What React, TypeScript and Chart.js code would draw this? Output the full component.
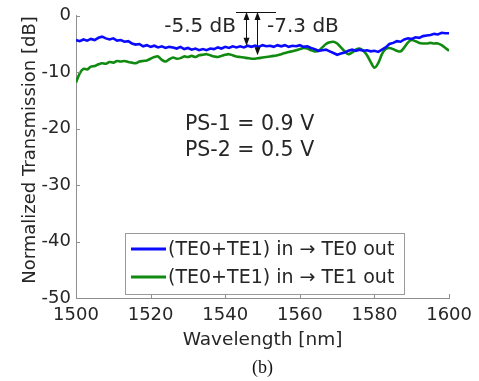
import React, { useEffect, useRef } from "react";
import { Chart, registerables } from "chart.js";

Chart.register(...registerables);

const wavelengths: number[] = [];
for (let w = 1500; w <= 1600; w += 1) wavelengths.push(w);

const te0Out: number[] = [
  -4.3, -4.5, -4.2, -4.4, -4.1, -4.3, -3.9, -3.7, -4.0, -4.2,
  -4.0, -4.4, -4.3, -4.6, -4.5, -4.9, -5.1, -5.0, -5.4, -5.2,
  -5.5, -5.3, -5.6, -5.4, -5.7, -5.5, -5.6, -5.8, -5.5, -5.9,
  -5.7, -6.0, -5.8, -6.1, -5.9, -6.1, -5.8, -5.9, -5.6, -5.8,
  -5.5, -5.7, -5.4, -5.6, -5.4, -5.6, -5.3, -5.5, -5.3, -5.5,
  -5.2, -5.4, -5.3, -5.5, -5.2, -5.4, -5.2, -5.5, -5.3, -5.4,
  -5.2, -5.5, -5.4, -5.7, -5.9, -6.2, -6.1, -6.0, -6.3, -6.6,
  -6.9, -6.7, -6.5, -6.2, -6.0, -6.2, -6.0, -6.2, -6.1, -6.3,
  -6.2, -6.4, -6.0, -5.6, -5.0, -4.8, -4.5, -4.6, -4.2, -4.0,
  -4.1, -3.8, -3.9, -3.6, -3.5, -3.4, -3.2, -3.3, -3.0, -3.1,
  -3.1,
];

const te1Out: number[] = [
  -11.8, -10.2, -9.4, -9.5, -9.0, -8.9, -8.6, -8.4, -8.5, -8.2,
  -8.3, -8.0, -8.1, -8.0, -8.2, -8.3, -8.4, -8.1, -8.0, -7.9,
  -7.6, -7.3, -7.2, -7.8, -8.1, -7.7, -7.4, -7.6, -7.5, -7.2,
  -7.3, -7.1, -7.3, -7.0, -6.9, -6.8, -7.0, -7.2, -7.3, -7.1,
  -6.9, -6.8, -7.0, -7.2, -7.3, -7.4, -7.5, -7.6, -7.6, -7.5,
  -7.4, -7.3, -7.2, -7.1, -7.0, -6.8, -6.6, -6.4, -6.3, -6.1,
  -5.9, -5.7, -5.8, -6.1, -6.3, -6.2, -5.6, -5.0, -4.7, -4.6,
  -4.9, -5.6, -6.3, -6.8, -6.5, -6.0, -5.8, -6.2, -7.0, -8.2,
  -9.2, -8.4, -6.8, -5.9, -5.7, -5.9, -6.2, -6.3, -5.6, -4.7,
  -4.3, -4.5, -4.8, -4.9, -4.9, -4.8, -4.9, -4.9, -5.2, -5.7,
  -6.2,
];

const seriesLabels = ["(TE0+TE1) in \u2192 TE0 out", "(TE0+TE1) in \u2192 TE1 out"];
const seriesColors = ["#0a0aff", "#108a10"];
const xTicks = [1500, 1520, 1540, 1560, 1580, 1600];
const yTicks = [0, -10, -20, -30, -40, -50];
const annotLevels = [-5.3, -7.0];
const annotX = [1545.6, 1548.6];
const annotTexts = ["-5.5 dB", "-7.3 dB"];
const psTexts = ["PS-1 = 0.9 V", "PS-2 = 0.5 V"];

const FONT = "'DejaVu Sans', Verdana, sans-serif";
const TEXT = "#262626";
const AXIS = "#8f8f8f";

function arrowHead(ctx: CanvasRenderingContext2D, x: number, y: number, dir: number) {
  ctx.beginPath();
  ctx.moveTo(x, y);
  ctx.lineTo(x - 3, y + dir * 8);
  ctx.lineTo(x + 3, y + dir * 8);
  ctx.closePath();
  ctx.fill();
}

const decorPlugin = {
  id: "decor",
  afterDraw(chart: any) {
    const ctx: CanvasRenderingContext2D = chart.ctx;
    const xs = chart.scales.x;
    const ys = chart.scales.y;
    const area = chart.chartArea;
    ctx.save();
    // inward ticks
    ctx.strokeStyle = AXIS;
    ctx.lineWidth = 1;
    xTicks.forEach((t) => {
      const px = Math.round(xs.getPixelForValue(t)) + 0.5;
      ctx.beginPath();
      ctx.moveTo(px, area.bottom);
      ctx.lineTo(px, area.bottom - 4);
      ctx.stroke();
    });
    yTicks.forEach((t) => {
      const py = Math.round(ys.getPixelForValue(t)) + 0.5;
      ctx.beginPath();
      ctx.moveTo(area.left, py);
      ctx.lineTo(area.left + 4, py);
      ctx.stroke();
    });

    // axis titles
    ctx.fillStyle = TEXT;
    ctx.font = `18.5px ${FONT}`;
    ctx.textAlign = "center";
    ctx.textBaseline = "middle";
    ctx.fillText("Wavelength [nm]", (area.left + area.right) / 2, 340);
    ctx.save();
    ctx.font = `18px ${FONT}`;
    ctx.translate(30, 150);
    ctx.rotate(-Math.PI / 2);
    ctx.fillText("Normalized Transmission [dB]", 0, 0);
    ctx.restore();

    ctx.font = "18px 'Liberation Serif', 'Times New Roman', serif";
    ctx.fillStyle = "#111";
    ctx.fillText("(b)", (area.left + area.right) / 2, 368);

    // PS text
    ctx.fillStyle = TEXT;
    ctx.font = `20.5px ${FONT}`;
    ctx.textAlign = "left";
    ctx.fillText(psTexts[0], 185, 125);
    ctx.fillText(psTexts[1], 185, 151);

    // annotation
    const topY = 12;
    const ax0 = xs.getPixelForValue(annotX[0]);
    const ax1 = xs.getPixelForValue(annotX[1]);
    ctx.strokeStyle = "#111";
    ctx.fillStyle = "#111";
    ctx.lineWidth = 1;
    ctx.beginPath();
    ctx.moveTo(236, topY + 0.5);
    ctx.lineTo(276, topY + 0.5);
    ctx.stroke();
    [ax0, ax1].forEach((ax, i) => {
      const by = ys.getPixelForValue(annotLevels[i]);
      const x = Math.round(ax) + 0.5;
      ctx.beginPath();
      ctx.moveTo(x, topY + 2);
      ctx.lineTo(x, by - 2);
      ctx.stroke();
      arrowHead(ctx, x, topY, 1);
      arrowHead(ctx, x, by, -1);
    });
    ctx.font = `20px ${FONT}`;
    ctx.fillStyle = TEXT;
    ctx.textAlign = "right";
    ctx.fillText(annotTexts[0], 236, 27);
    ctx.textAlign = "left";
    ctx.fillText(annotTexts[1], 267, 27);

    // legend
    const lx = 125.5, ly = 233.5, lw = 279, lh = 61;
    ctx.fillStyle = "#fff";
    ctx.fillRect(lx, ly, lw, lh);
    ctx.strokeStyle = "#9a9a9a";
    ctx.strokeRect(lx, ly, lw, lh);
    ctx.font = `19px ${FONT}`;
    ctx.textBaseline = "middle";
    ctx.textAlign = "left";
    [249, 277].forEach((ry, i) => {
      ctx.strokeStyle = seriesColors[i];
      ctx.lineWidth = 3;
      ctx.beginPath();
      ctx.moveTo(131, ry);
      ctx.lineTo(166, ry);
      ctx.stroke();
      ctx.fillStyle = TEXT;
      ctx.fillText(seriesLabels[i], 168, ry + 1);
    });
    ctx.restore();
  },
};

export default function App() {
  const ref = useRef<HTMLCanvasElement | null>(null);
  useEffect(() => {
    if (!ref.current) return;
    const chart = new Chart(ref.current, {
      type: "line",
      data: {
        datasets: [
          {
            label: seriesLabels[0],
            data: wavelengths.map((w, i) => ({ x: w, y: te0Out[i] })),
            borderColor: seriesColors[0],
            borderWidth: 2.6,
            pointRadius: 0,
            tension: 0,
          },
          {
            label: seriesLabels[1],
            data: wavelengths.map((w, i) => ({ x: w, y: te1Out[i] })),
            borderColor: seriesColors[1],
            borderWidth: 2.6,
            pointRadius: 0,
            tension: 0.3,
          },
        ],
      },
      options: {
        animation: false,
        responsive: true,
        maintainAspectRatio: false,
        layout: { padding: { left: 0, top: 14, right: 28, bottom: 0 } },
        plugins: { legend: { display: false }, tooltip: { enabled: false } },
        scales: {
          x: {
            type: "linear",
            min: 1500,
            max: 1600,
            afterFit: (s: any) => { s.height = 83; },
            afterBuildTicks: (s: any) => { s.ticks = xTicks.map((v) => ({ value: v })); },
            grid: { display: false, drawTicks: false },
            border: { display: true, color: AXIS, width: 1 },
            ticks: {
              padding: 7,
              maxRotation: 0,
              autoSkip: false,
              color: TEXT,
              font: { family: FONT, size: 18 },
              callback: (v: any) => String(v),
            },
          },
          y: {
            type: "linear",
            min: -50,
            max: 0,
            afterFit: (s: any) => { s.width = 76; },
            afterBuildTicks: (s: any) => { s.ticks = yTicks.map((v) => ({ value: v })); },
            grid: { display: false, drawTicks: false },
            border: { display: true, color: AXIS, width: 1 },
            ticks: {
              padding: 5,
              autoSkip: false,
              color: TEXT,
              font: { family: FONT, size: 18 },
              callback: (v: any) => String(v),
            },
          },
        },
      },
      plugins: [decorPlugin],
    });
    return () => chart.destroy();
  }, []);
  return (
    <div style={{ position: "fixed", left: 0, top: 0, width: 479, height: 381, background: "#fff" }}>
      <canvas ref={ref} />
    </div>
  );
}
